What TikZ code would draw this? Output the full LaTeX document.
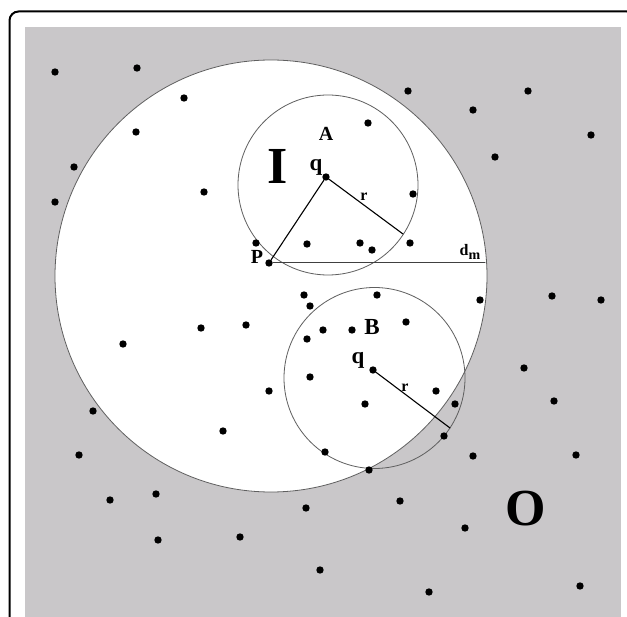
\documentclass[tikz,border=0pt]{standalone}
\usepackage{fontspec}
\setmainfont{Liberation Serif}
\usepackage{xcolor}
\definecolor{bggray}{RGB}{201,199,201}
\definecolor{rimgray}{RGB}{95,95,95}

\begin{document}
\begin{tikzpicture}[x=1pt,y=-1pt,line cap=round,
  pt/.style={circle,fill=black,inner sep=0pt,minimum size=7.4pt},
  lbl/.style={inner sep=0pt,font=\bfseries\fontsize{#1}{#1}\selectfont}]
\useasboundingbox (0,0) rectangle (627,617);
\clip (0,0) rectangle (627,617);
\draw[line width=2pt,rounded corners=9pt] (9.5,11.5) rectangle (636,645);
\fill[bggray] (25,27) rectangle (621,617);
% region I and the two query circles
\filldraw[fill=white,draw=rimgray,line width=0.8pt] (271,276) circle (216pt);
\draw[rimgray,line width=0.8pt] (328,185) circle (90pt);
\draw[rimgray,line width=0.8pt] (374.5,378) circle (90.5pt);
% points
\foreach \x/\y in {55/72,137/68,184/98,136/132,74/167,55/202,204/192,368/123,
  413/194,408/91,528/91,473/110,591/135,495/157,256/243,307/244,360/243,372/250,
  410/243,304/295,310/306,377/295,480/300,552/296,601/300,406/322,323/330,
  352/330,307/339,201/328,246/325,123/344,310/377,269/391,365/404,436/391,
  455/404,524/368,554/401,93/411,223/431,444/436,325/452,79/455,473/456,
  576/455,369/470,110/500,156/494,306/508,400/501,465/528,158/540,240/537,
  320/570,429/592,580/586}
  \fill (\x,\y) circle (3.7pt);
\node[pt] (P) at (269,263) {};
\node[pt] (qA) at (326,177) {};
\node[pt] (qB) at (373,370) {};
\coordinate (rA) at (403,234);
\coordinate (rB) at (450,428);
\coordinate (dmEnd) at (485,263);
\draw[line width=1.1pt] (qA) -- (P);
\draw[line width=1.1pt] (qA) -- (rA);
\draw[line width=1.1pt] (qB) -- (rB);
\draw[black!75,line width=1pt] (P) -- (dmEnd);
% labels
\node[lbl=20] (labA) at (326,134) {A};
\node[lbl=23] (labB) at (372,327) {B};
\node[lbl=52] (labI) at (278,166) {I};
\node[lbl=52] (labO) at (526,509) {O};
\node[lbl=23] (labqA) at (316,167) {q};
\node[lbl=23] (labqB) at (358,360) {q};
\node[lbl=20] (labP) at (257,257) {P};
\node[lbl=16] (labrA) at (364,197) {r};
\node[lbl=16] (labrB) at (405,388) {r};
\node[lbl=16] (labdm) at (470,252) {d\raisebox{-4pt}{\fontsize{14}{14}\selectfont m}};
\end{tikzpicture}
\end{document}
